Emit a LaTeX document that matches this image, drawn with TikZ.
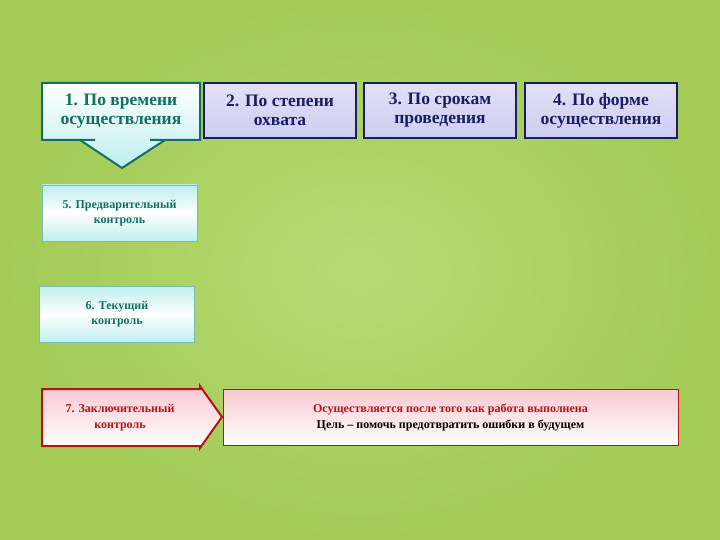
\documentclass[tikz,border=0pt]{standalone}
\usepackage{fontspec}
\setmainfont{Liberation Serif}
\definecolor{bg}{RGB}{170,212,90}
\definecolor{teal}{RGB}{20,110,100}
\definecolor{navy}{RGB}{25,30,100}
\definecolor{lav}{RGB}{205,205,240}
\definecolor{cy}{RGB}{190,238,238}
\definecolor{rd}{RGB}{180,20,20}
\definecolor{pk}{RGB}{248,200,208}
\tikzset{
 topbox/.style={draw=navy,line width=2pt,top color=lav!60!white,bottom color=lav,minimum width=152pt,minimum height=55pt,inner sep=0pt,align=center,font=\bfseries\fontsize{17.5}{19}\selectfont,text=navy},
 smallbox/.style={draw=cy!60!teal,line width=0.6pt,top color=cy,bottom color=cy,middle color=white,minimum width=155pt,minimum height=56pt,inner sep=0pt,align=center,font=\bfseries\fontsize{12}{15}\selectfont,text=teal},
 redtxt/.style={align=center,font=\bfseries\fontsize{12}{16}\selectfont,text=rd}
}
\begin{document}
\begin{tikzpicture}[x=1pt,y=-1pt]
\useasboundingbox (0,0) rectangle (720,540);
\fill[bg] (0,0) rectangle (720,540);
\shade[inner color=bg!60!white,outer color=bg!90!black,opacity=0.4] (0,0) rectangle (720,540);
% box 1 callout
\draw[teal,line width=2pt,top color=white,bottom color=cy]
 (42,83) -- (200,83) -- (200,140) -- (150,140) -- (165,140) -- (122,168) -- (80,140) -- (95,140) -- (42,140) -- cycle;
\node[align=center,font=\bfseries\fontsize{17.5}{19}\selectfont,text=teal] (b1) at (121,111) {1. По времени\\осуществления};
\node[topbox] (b2) at (280,110.5) {2. По степени\\охвата};
\node[topbox] (b3) at (440,110.5) {3. По срокам\\проведения};
\node[topbox] (b4) at (601,110.5) {4. По форме\\осуществления};
\node[smallbox] (b5) at (119.5,213) {5. Предварительный\\контроль};
\node[smallbox] (b6) at (117,314.5) {6. Текущий\\контроль};
% box 7 callout
\draw[rd,line width=2pt,top color=pk,bottom color=white]
 (42,389) -- (200,389) -- (200,386) -- (222,417) -- (200,448) -- (200,446) -- (42,446) -- cycle;
\node[redtxt] (b7) at (120,417.5) {7. Заключительный\\контроль};
\node[draw=rd,line width=1pt,top color=pk,bottom color=white,minimum width=455pt,minimum height=56pt,inner sep=0pt] (b8) at (450.5,417) {};
\node[align=center,font=\bfseries\fontsize{12}{16}\selectfont] at (b8) {\textcolor{rd}{Осуществляется после того как работа выполнена}\\\textcolor{black}{Цель – помочь предотвратить ошибки в будущем}};
\end{tikzpicture}
\end{document}
